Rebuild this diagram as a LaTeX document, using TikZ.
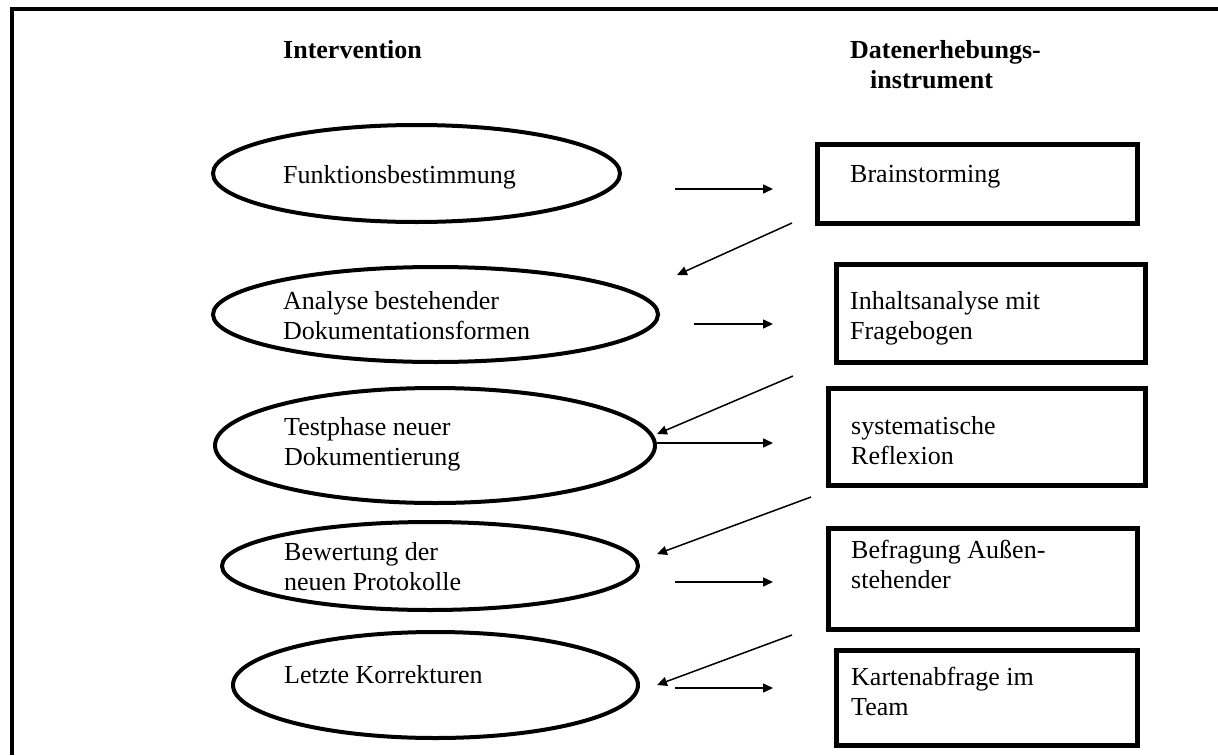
\documentclass[tikz,border=0pt]{standalone}
\usepackage{fontspec}
\setmainfont{Liberation Serif}
\usetikzlibrary{shapes.geometric,arrows.meta}
\begin{document}
\begin{tikzpicture}[x=1pt,y=-1pt,
  txt/.style={anchor=base west,inner sep=0pt,align=left,font=\rmfamily\fontsize{26}{30}\selectfont},
  hdr/.style={txt,font=\rmfamily\fontsize{26}{30}\selectfont\bfseries},
  oval/.style={draw,ellipse,line width=4pt,inner sep=0pt},
  frame/.style={draw,line width=5pt,inner sep=0pt},
  conn/.style={line width=1.5pt,-{Triangle[length=10pt,width=9pt]}}
]
\useasboundingbox (0,0) rectangle (1218,755);
% outer frame (top and left)
\draw[line width=4.5pt] (12,755) -- (12,9) -- (1218,9);
% headers
\node[hdr] (h1) at (283,58) {Intervention};
\node[hdr] (h2) at (850,58) {Datenerhebungs-};
\node[hdr] (h3) at (870,88) {instrument};
% ellipses
\node[oval,minimum width=407pt,minimum height=97pt] (e1) at (416.5,173.5) {};
\node[oval,minimum width=445pt,minimum height=95pt] (e2) at (435.5,314.5) {};
\node[oval,minimum width=440pt,minimum height=115pt] (e3) at (435,445.5) {};
\node[oval,minimum width=416pt,minimum height=88pt] (e4) at (430,566) {};
\node[oval,minimum width=405pt,minimum height=106pt] (e5) at (435.5,685) {};
% text (anchored at the baseline of the last line)
\node[txt] (t1) at (283,183) {Funktionsbestimmung};
\node[txt] (t2) at (283,339) {Analyse bestehender\\Dokumentationsformen};
\node[txt] (t3) at (284,465) {Testphase neuer\\Dokumentierung};
\node[txt] (t4) at (284,590) {Bewertung der\\neuen Protokolle};
\node[txt] (t5) at (284,683) {Letzte Korrekturen};
% boxes
\node[frame,minimum width=320pt,minimum height=79pt] (b1) at (977,183.5) {};
\node[frame,minimum width=309pt,minimum height=98pt] (b2) at (990.5,313) {};
\node[frame,minimum width=317pt,minimum height=97pt] (b3) at (986.5,436.5) {};
\node[frame,minimum width=309pt,minimum height=101pt] (b4) at (982.5,578.5) {};
\node[frame,minimum width=301pt,minimum height=95pt] (b5) at (986.5,697.5) {};
\node[txt] (s1) at (850,182) {Brainstorming};
\node[txt] (s2) at (850,339) {Inhaltsanalyse mit\\Fragebogen};
\node[txt] (s3) at (851,464) {systematische\\Reflexion};
\node[txt] (s4) at (851,588) {Befragung Außen-\\stehender};
\node[txt] (s5) at (851,715) {Kartenabfrage im\\Team};
% connector end points
\coordinate (r1a) at (675,189); \coordinate (r1b) at (773,189);
\coordinate (r2a) at (694,324); \coordinate (r2b) at (773,324);
\coordinate (r3a) at (657,443); \coordinate (r3b) at (773,443);
\coordinate (r4a) at (675,582); \coordinate (r4b) at (773,582);
\coordinate (r5a) at (675,688); \coordinate (r5b) at (773,688);
\coordinate (d1a) at (792,223); \coordinate (d1b) at (677,275);
\coordinate (d2a) at (793,376); \coordinate (d2b) at (657,434);
\coordinate (d3a) at (811,497); \coordinate (d3b) at (657,554);
\coordinate (d4a) at (792,635); \coordinate (d4b) at (657,685);
\foreach \n in {1,...,5} {\draw[conn] (r\n a) -- (r\n b);}
\foreach \n in {1,...,4} {\draw[conn] (d\n a) -- (d\n b);}
\end{tikzpicture}
\end{document}
